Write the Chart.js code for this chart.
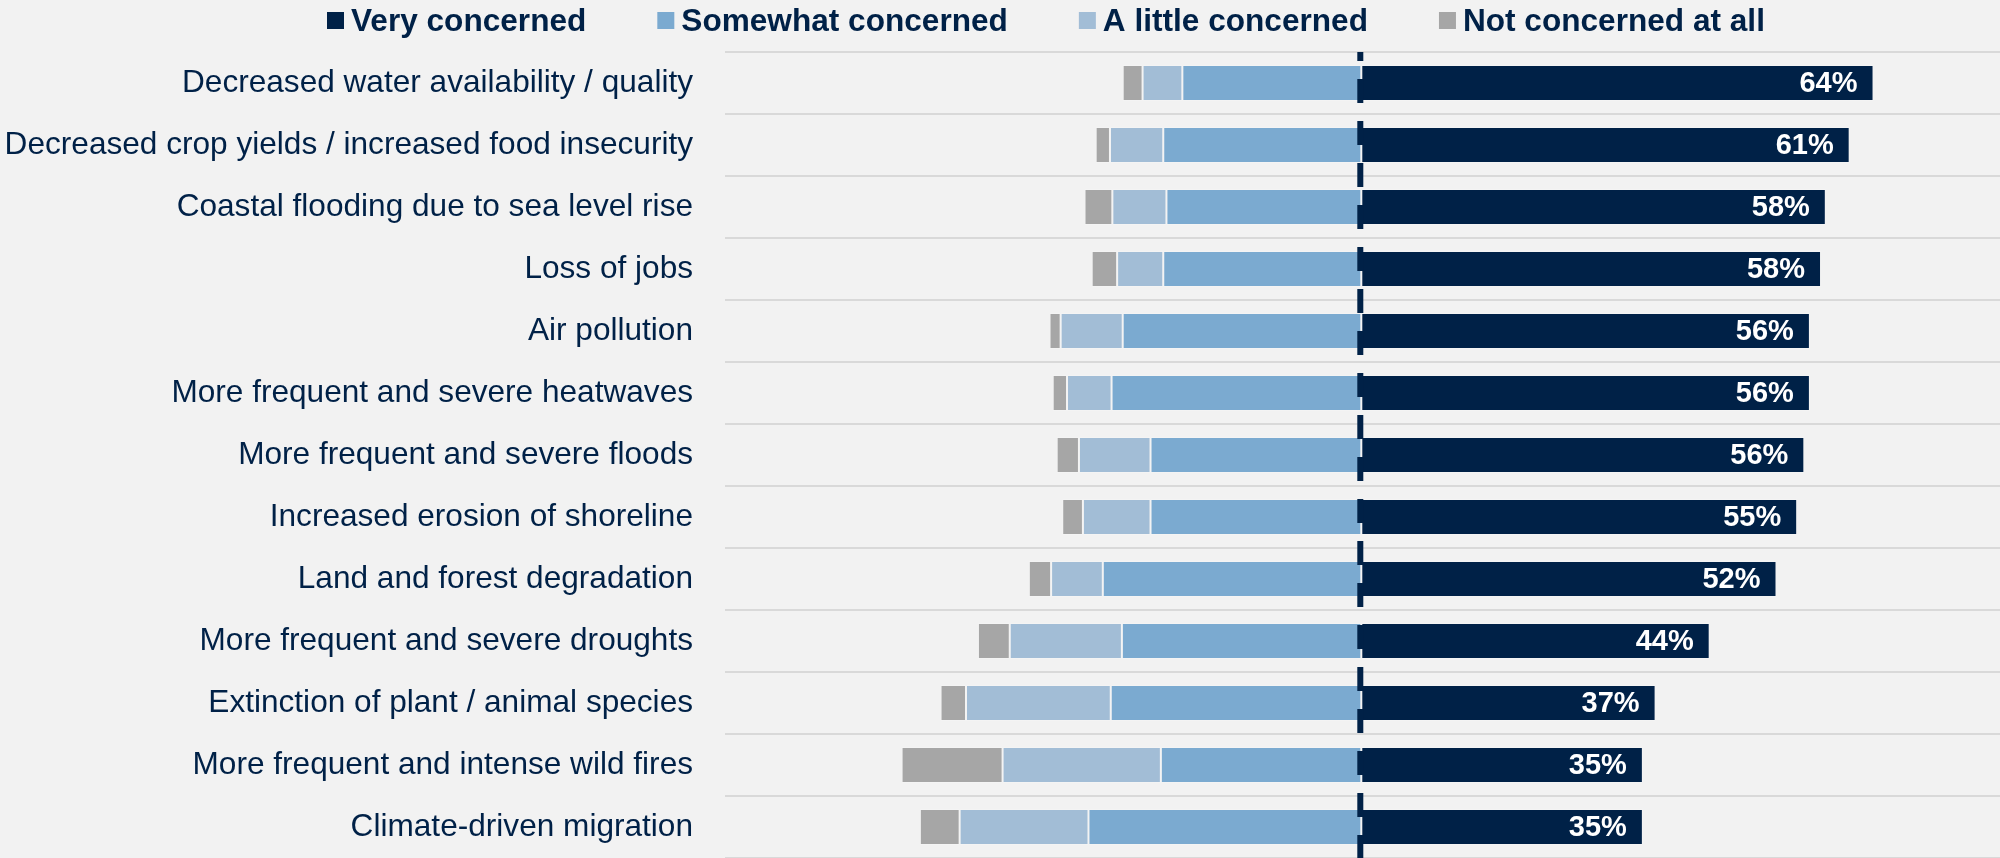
<!DOCTYPE html>
<html>
<head>
<meta charset="utf-8">
<title>Climate concerns</title>
<script src="https://cdn.jsdelivr.net/npm/chart.js"></script>
<style>
    html, body { margin: 0; padding: 0; background: #f2f2f2; }
    .chart-box { width: 2000px; height: 858px; position: relative; }
</style>
</head>
<body>
<div class="chart-box">
    <canvas id="barChart"></canvas>
</div>
<script>
const categories = [
    'Decreased water availability / quality',
    'Decreased crop yields / increased food insecurity',
    'Coastal flooding due to sea level rise',
    'Loss of jobs',
    'Air pollution',
    'More frequent and severe heatwaves',
    'More frequent and severe floods',
    'Increased erosion of shoreline',
    'Land and forest degradation',
    'More frequent and severe droughts',
    'Extinction of plant / animal species',
    'More frequent and intense wild fires',
    'Climate-driven migration'
];

const seriesNames = ['Very concerned', 'Somewhat concerned', 'A little concerned', 'Not concerned at all'];

// percentages
const veryConcerned = [64.4, 61.4, 58.4, 57.8, 56.4, 56.4, 55.7, 54.8, 52.2, 43.8, 37.0, 35.4, 35.4];
const somewhatConcerned = [22.5, 24.9, 24.5, 24.9, 30.0, 31.4, 26.5, 26.5, 32.5, 30.1, 31.5, 25.2, 34.3];
const littleConcerned = [5.0, 6.7, 6.8, 5.8, 7.8, 5.6, 9.0, 8.5, 6.5, 14.1, 18.2, 19.9, 16.2];
const notConcerned = [2.5, 1.8, 3.5, 3.2, 1.4, 1.8, 2.8, 2.6, 2.8, 4.0, 3.2, 12.7, 5.0];

const colors = ['#002147', '#7baad0', '#a2bdd6', '#a6a6a6'];
const navy = '#002147';
const fontFamily = "'Liberation Sans', Arial, sans-serif";

// left side segments go negative so they stack away from zero
const neg = arr => arr.map(v => -v);

const legendPlugin = {
    id: 'topLegend',
    afterDraw(chart) {
        const ctx = chart.ctx;
        ctx.save();
        ctx.font = 'bold 31.6px ' + fontFamily;
        ctx.textBaseline = 'alphabetic';
        ctx.textAlign = 'left';
        let x = 327;
        chart.data.datasets.forEach(ds => {
            ctx.fillStyle = ds.backgroundColor;
            ctx.fillRect(x, 12, 17, 17);
            ctx.fillStyle = navy;
            ctx.fillText(ds.label, x + 24, 30.7);
            x += 24 + ctx.measureText(ds.label).width + 71;
        });
        ctx.restore();
    }
};

const zeroLinePlugin = {
    id: 'zeroLine',
    afterDatasetsDraw(chart) {
        const ctx = chart.ctx;
        const area = chart.chartArea;
        const x0 = chart.scales.x.getPixelForValue(0) - 1;
        ctx.save();
        ctx.strokeStyle = navy;
        ctx.lineWidth = 6;
        ctx.setLineDash([24, 18]);
        ctx.lineDashOffset = 15;
        ctx.beginPath();
        ctx.moveTo(x0, area.top);
        ctx.lineTo(x0, area.bottom);
        ctx.stroke();
        ctx.restore();
    }
};

const valueLabelPlugin = {
    id: 'valueLabels',
    afterDatasetsDraw(chart) {
        const ctx = chart.ctx;
        const meta = chart.getDatasetMeta(0);
        ctx.save();
        ctx.font = 'bold 29px ' + fontFamily;
        ctx.fillStyle = '#ffffff';
        ctx.textAlign = 'right';
        ctx.textBaseline = 'middle';
        meta.data.forEach((bar, i) => {
            ctx.fillText(Math.round(veryConcerned[i]) + '%', bar.x - 16, bar.y + 1);
        });
        ctx.restore();
    }
};

const barCtx = document.getElementById('barChart').getContext('2d');
const barChart = new Chart(barCtx, {
    type: 'bar',
    data: {
        labels: categories,
        datasets: [
            { label: seriesNames[0], data: veryConcerned, backgroundColor: colors[0] },
            { label: seriesNames[1], data: neg(somewhatConcerned), backgroundColor: colors[1] },
            { label: seriesNames[2], data: neg(littleConcerned), backgroundColor: colors[2] },
            { label: seriesNames[3], data: neg(notConcerned), backgroundColor: colors[3] }
        ].map(ds => Object.assign(ds, {
            borderColor: 'rgba(255,255,255,0.2)',
            borderWidth: 1,
            borderSkipped: false,
            categoryPercentage: 1,
            barPercentage: 0.58
        }))
    },
    options: {
        indexAxis: 'y',
        responsive: true,
        maintainAspectRatio: false,
        animation: false,
        devicePixelRatio: 1,
        layout: {
            padding: { left: 0, right: 0, top: 52, bottom: 0 }
        },
        scales: {
            x: {
                display: false,
                stacked: true,
                min: -80,
                max: 80.3
            },
            y: {
                stacked: true,
                border: { display: false },
                grid: {
                    offset: true,
                    color: '#d9d9d9',
                    lineWidth: 2,
                    drawTicks: false
                },
                ticks: {
                    color: navy,
                    padding: 32,
                    font: { family: fontFamily, size: 31.6 }
                },
                afterFit(scale) {
                    scale.width = 725;
                    // labels sit inside their rows, so no extra room above/below
                    scale.paddingTop = 0;
                    scale.paddingBottom = 0;
                }
            }
        },
        plugins: {
            legend: { display: false },
            tooltip: { enabled: false }
        }
    },
    plugins: [legendPlugin, zeroLinePlugin, valueLabelPlugin]
});
</script>
</body>
</html>
